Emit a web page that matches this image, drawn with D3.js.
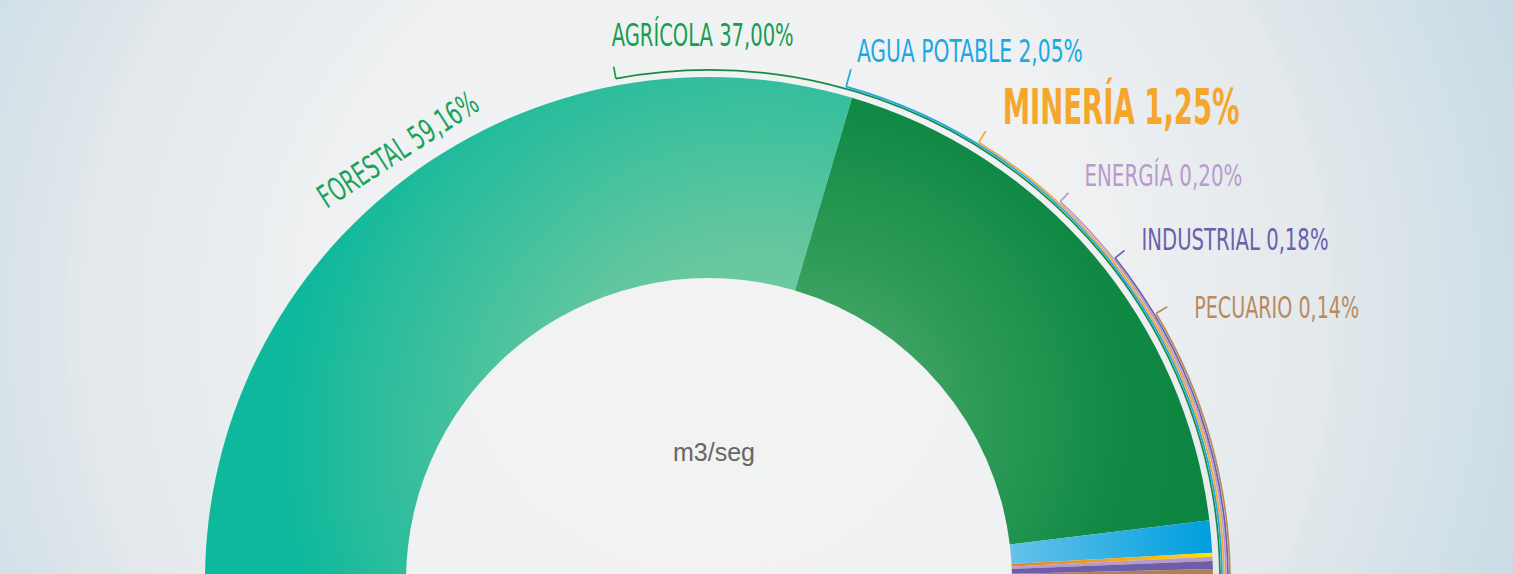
<!DOCTYPE html>
<html>
<head>
<meta charset="utf-8">
<script src="https://cdn.jsdelivr.net/npm/d3@7"></script>
<style>
  html, body { margin: 0; padding: 0; overflow: hidden; }
  svg { display: block; }
</style>
</head>
<body>
<script>
// uso del agua por sector
const categories = ["FORESTAL", "AGRÍCOLA", "AGUA POTABLE", "MINERÍA", "ENERGÍA", "INDUSTRIAL", "PECUARIO"]
const shares = [59.16, 37.00, 2.05, 1.25, 0.20, 0.18, 0.14]
// slice sizes as drawn in the picture (small sectors are not to scale there)
const sliceWeights = [59.16, 37.00, 2.05, 0.26, 0.26, 0.51, 0.76]
const centerLabel = "m3/seg"

const colors = ["#19a45c", "#149e50", "#1ba8e4", "#f5a62b", "#b99bcb", "#6d5fab", "#b98a60"]
const ringColors = ["#19a45c", "#168b47", "#1ba8e4", "#f5a62b", "#b99bcb", "#6d5fab", "#b98a60"]

let width = 1513
let height = 574
let cx = 709, cy = 581
let rIn = 303, rOut = 504

const svg = d3.select("body").append("svg")
  .attr("width", width)
  .attr("height", height)

const defs = svg.append("defs")

// background
const bg = defs.append("radialGradient").attr("id", "bg")
  .attr("gradientUnits", "userSpaceOnUse")
  .attr("cx", 710).attr("cy", 320).attr("r", 900)
bg.append("stop").attr("offset", 0).attr("stop-color", "#f2f2f3")
bg.append("stop").attr("offset", 0.42).attr("stop-color", "#eff0f1")
bg.append("stop").attr("offset", 0.7).attr("stop-color", "#e0e7eb")
bg.append("stop").attr("offset", 1).attr("stop-color", "#c4d9e4")

svg.append("rect").attr("width", width).attr("height", height).attr("fill", "url(#bg)")
svg.append("circle").attr("cx", 700).attr("cy", 320).attr("r", 635)
  .attr("fill", "#ffffff").attr("opacity", 0.07)

// slice gradients (coordinates in page space, shifted into the chart group)
function radial(id, x, y, r, stops) {
  const g = defs.append("radialGradient").attr("id", id)
    .attr("gradientUnits", "userSpaceOnUse")
    .attr("cx", x - cx).attr("cy", y - cy).attr("r", r)
  stops.forEach(s => g.append("stop").attr("offset", s[0]).attr("stop-color", s[1]))
}
function linear(id, x1, x2, stops) {
  const g = defs.append("linearGradient").attr("id", id)
    .attr("gradientUnits", "userSpaceOnUse")
    .attr("x1", x1 - cx).attr("x2", x2 - cx).attr("y1", 0).attr("y2", 0)
  stops.forEach(s => g.append("stop").attr("offset", s[0]).attr("stop-color", s[1]))
}
radial("g0", 760, 440, 480, [[0, "#7ecea3"], [0.4, "#66c79f"], [0.8, "#2cbd9d"], [1, "#0eb89c"]])
radial("g1", 810, 420, 420, [[0, "#5cae74"], [0.4, "#2e9b58"], [0.75, "#108944"], [1, "#0b843f"]])
linear("g2", 1010, 1210, [[0, "#66c2e9"], [1, "#009fe0"]])
linear("g3", 1010, 1210, [[0, "#e47f2f"], [0.6, "#f3ab20"], [1, "#ffe300"]])
const fills = ["url(#g0)", "url(#g1)", "url(#g2)", "url(#g3)", "#b89ac8", "#6c5ea8", "#b07f56"]

const pie = d3.pie().sort(null)
  .startAngle(-Math.PI / 2).endAngle(Math.PI / 2)
const arc = d3.arc().innerRadius(rIn).outerRadius(rOut)

const g = svg.append("g").attr("transform", `translate(${cx},${cy})`)

g.selectAll("path.slice")
  .data(pie(sliceWeights))
  .join("path")
  .attr("class", "slice")
  .attr("d", arc)
  .attr("fill", (d, i) => fills[i])

// label layout (angle in degrees from the top, text offset from tick end)
const labelLayout = [
  null,
  { a: -10.5, tick: 12, dx: -2, dy: -21, size: 32, w: 182 },
  { a: 15.5, tick: 18, dx: 6, dy: -7, size: 32, w: 226 },
  { a: 31.6, tick: 13, dx: 17, dy: -7, size: 50, w: 237, bold: true },
  { a: 42.8, tick: 12, dx: 16, dy: -7, size: 31, w: 158 },
  { a: 51.5, tick: 12, dx: 17, dy: 0, size: 31, w: 187 },
  { a: 59.1, tick: 13, dx: 27, dy: 11, size: 31, w: 165 }
]

const fontFam = "'Liberation Sans Narrow', 'DejaVu Sans Condensed', 'Roboto', sans-serif"
const fmt = v => v.toFixed(2).replace(".", ",") + "%"
const rad = d => d * Math.PI / 180

labelLayout.forEach((L, i) => {
  if (!L) return
  const r = rOut + 7 + (i - 1) * 2
  const a0 = rad(L.a)
  g.append("path")
    .attr("d", d3.arc()({ innerRadius: r, outerRadius: r, startAngle: a0, endAngle: Math.PI / 2 }))
    .attr("fill", "none")
    .attr("stroke", ringColors[i])
    .attr("stroke-width", 1.7)
  const x1 = r * Math.sin(a0), y1 = -r * Math.cos(a0)
  const x2 = (r + L.tick) * Math.sin(a0), y2 = -(r + L.tick) * Math.cos(a0)
  g.append("line")
    .attr("x1", x1).attr("y1", y1).attr("x2", x2).attr("y2", y2)
    .attr("stroke", colors[i]).attr("stroke-width", 1.7)
  g.append("text")
    .attr("x", x2 + L.dx).attr("y", y2 + L.dy)
    .attr("font-family", fontFam)
    .attr("font-size", L.size)
    .attr("font-weight", L.bold ? "bold" : "normal")
    .attr("fill", colors[i])
    .attr("textLength", L.w)
    .attr("lengthAdjust", "spacingAndGlyphs")
    .text(categories[i] + " " + fmt(shares[i]))
})

// forestal label, rotated along the rim
svg.append("text")
  .attr("transform", "translate(404,159) rotate(-33)")
  .attr("text-anchor", "middle")
  .attr("font-family", fontFam)
  .attr("font-size", 32)
  .attr("fill", colors[0])
  .attr("textLength", 184)
  .attr("lengthAdjust", "spacingAndGlyphs")
  .text(categories[0] + " " + fmt(shares[0]))

svg.append("text")
  .attr("x", 714).attr("y", 461)
  .attr("text-anchor", "middle")
  .attr("font-family", "'Liberation Sans', Arial, sans-serif")
  .attr("font-size", 25)
  .attr("fill", "#666666")
  .text(centerLabel)
</script>
</body>
</html>
